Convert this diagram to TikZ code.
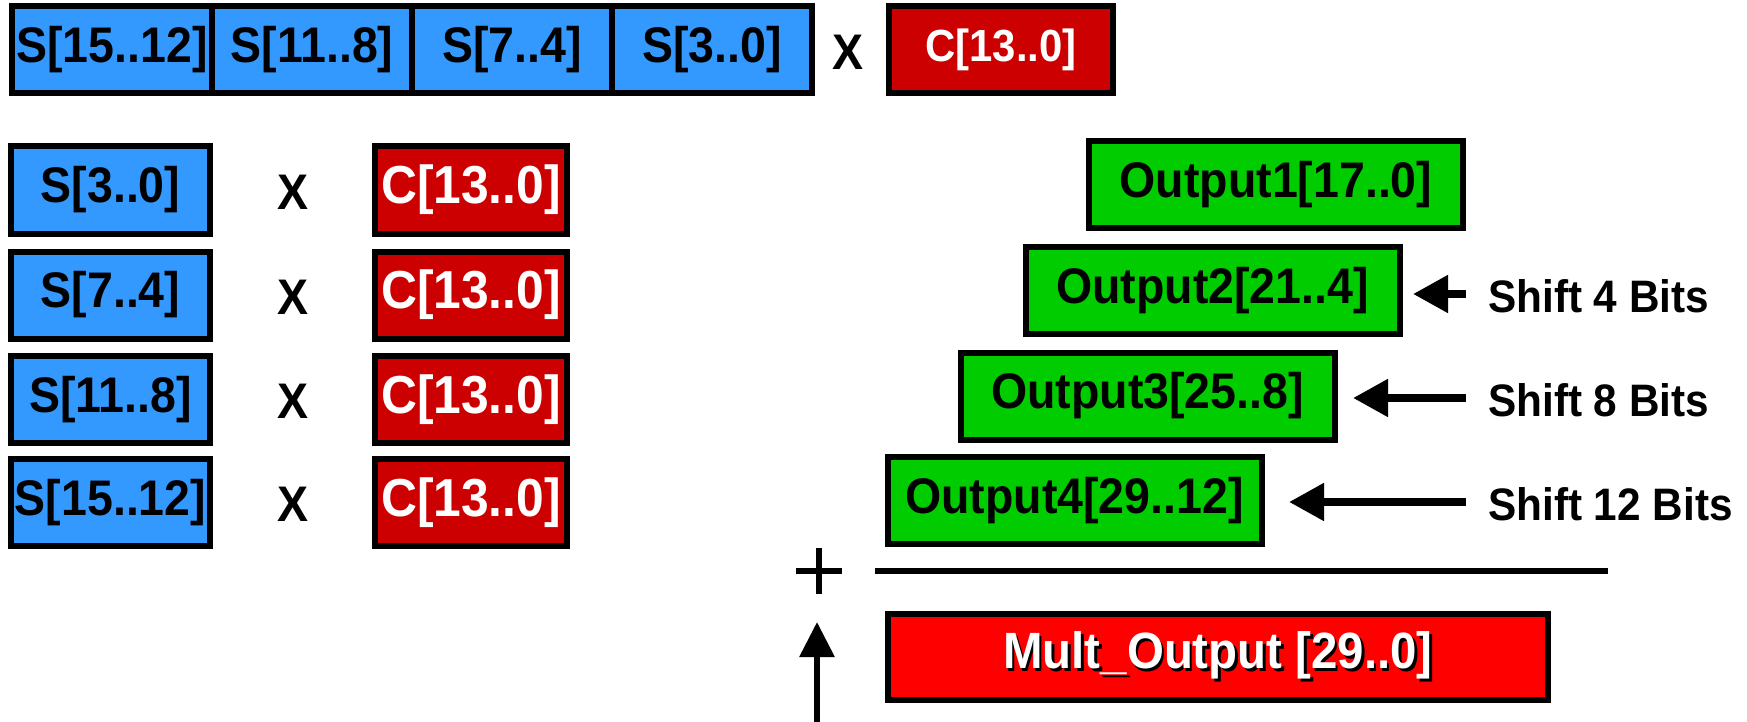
\documentclass[tikz,border=0pt]{standalone}
\usepackage{fontspec}
\setmainfont{Liberation Sans}[FakeStretch=0.93]
\usetikzlibrary{arrows.meta}
\definecolor{sblue}{HTML}{3399FF}
\definecolor{cred}{HTML}{CC0000}
\definecolor{ogreen}{HTML}{00CC00}
\definecolor{mred}{HTML}{FF0000}
\newcommand{\shadowtxt}[1]{\makebox[0pt][l]{\hspace{2.5pt}\raisebox{-2.5pt}{\color{black}#1}}{\color{white}#1}}
\tikzset{
  box/.style={draw=black, line width=6pt, inner sep=0pt, anchor=center,
              font=\fontsize{50}{50}\selectfont\bfseries},
  sbox/.style={box, fill=sblue, minimum width=199pt, minimum height=87pt},
  cbox/.style={box, fill=cred, text=white, minimum width=192pt, minimum height=87pt, font=\fontsize{53.5}{53.5}\selectfont\bfseries},
  obox/.style={box, fill=ogreen, minimum width=374pt, minimum height=87pt},
  mbox/.style={box, fill=mred, minimum width=660pt, minimum height=86pt, font=\fontsize{51}{51}\selectfont\bfseries},
  times/.style={inner sep=0pt, font=\fontsize{50}{50}\selectfont\bfseries},
  lbl/.style={inner sep=0pt, anchor=west, font=\fontsize{45.5}{45.5}\selectfont\bfseries},
  shiftarr/.style={line width=8pt, -{Triangle[length=35pt,width=36pt]}},
  uparr/.style={line width=6pt, -{Triangle[length=35pt,width=34pt]}},
  rule/.style={line width=6pt},
}
\begin{document}
\begin{tikzpicture}[x=1pt,y=-1pt]
\useasboundingbox (0,0) rectangle (1747,722);
% top row
\node[sbox, minimum width=200pt, minimum height=87pt] (t1) at (112,49.5) {S[15..12]};
\node[sbox, minimum width=200pt, minimum height=87pt] (t2) at (312,49.5) {S[11..8]};
\node[sbox, minimum width=200pt, minimum height=87pt] (t3) at (512,49.5) {S[7..4]};
\node[sbox, minimum width=200pt, minimum height=87pt] (t4) at (712,49.5) {S[3..0]};
\node[times] (tx) at (848,52) {X};
\node[cbox, minimum width=224pt, font=\fontsize{45}{45}\selectfont\bfseries] (tc) at (1001,49.5) {C[13..0]};
% rows
\node[sbox] (s1) at (110.5,190) {S[3..0]};
\node[sbox] (s2) at (110.5,295) {S[7..4]};
\node[sbox] (s3) at (110.5,399.5) {S[11..8]};
\node[sbox] (s4) at (110.5,502.5) {S[15..12]};
\node[times] (x1) at (293,192) {X};
\node[times] (x2) at (293,297) {X};
\node[times] (x3) at (293,401.5) {X};
\node[times] (x4) at (293,504.5) {X};
\node[cbox] (c1) at (471,190) {C[13..0]};
\node[cbox] (c2) at (471,295) {C[13..0]};
\node[cbox] (c3) at (471,399.5) {C[13..0]};
\node[cbox] (c4) at (471,502.5) {C[13..0]};
% outputs
\node[obox] (o1) at (1276,184.5) {Output1[17..0]};
\node[obox] (o2) at (1212.5,290.5) {Output2[21..4]};
\node[obox] (o3) at (1147.5,396) {Output3[25..8]};
\node[obox] (o4) at (1074.5,500.5) {Output4[29..12]};
% shift labels and arrows
\node[lbl] (l4) at (1488,296) {Shift 4 Bits};
\node[lbl] (l8) at (1488,400) {Shift 8 Bits};
\node[lbl] (l12) at (1488,504) {Shift 12 Bits};
\coordinate (a4s) at (1466,294);
\coordinate (a4e) at (1413,294);
\coordinate (a8s) at (1466,398);
\coordinate (a8e) at (1353,398);
\coordinate (a12s) at (1466,502);
\coordinate (a12e) at (1289,502);
\draw[shiftarr] (a4s) -- (a4e);
\draw[shiftarr] (a8s) -- (a8e);
\draw[shiftarr] (a12s) -- (a12e);
% plus and rule
\draw[line width=6pt] (796,571) -- (842,571);
\draw[line width=6pt] (819,548) -- (819,594);
\coordinate (r1) at (875,571);
\coordinate (r2) at (1608,571);
\draw[rule] (r1) -- (r2);
% result
\node[mbox] (m) at (1218,657) {\shadowtxt{Mult\_Output [29..0]}};
\coordinate (ua) at (817,722);
\coordinate (ub) at (817,622);
\draw[uparr] (ua) -- (ub);
\end{tikzpicture}
\end{document}
